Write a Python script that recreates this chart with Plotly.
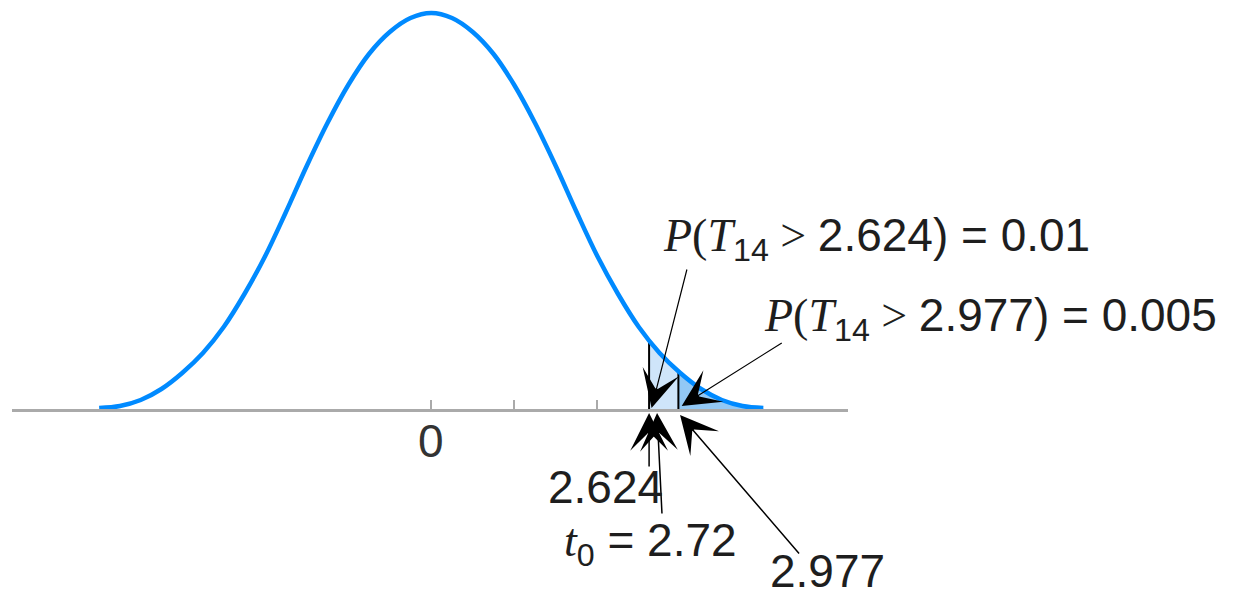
import numpy as np
import plotly.graph_objects as go

# t distribution with 14 degrees of freedom (curve heights sampled every 0.25)
df_t = 14
t_vals = [-4.0, -3.75, -3.5, -3.25, -3.0, -2.75, -2.5, -2.25, -2.0, -1.75, -1.5, -1.25,
          -1.0, -0.75, -0.5, -0.25, 0.0, 0.25, 0.5, 0.75, 1.0, 1.25, 1.5, 1.75, 2.0,
          2.25, 2.5, 2.75, 3.0, 3.25, 3.5, 3.75, 4.0]
density = [0.002, 0.004, 0.010, 0.021, 0.037, 0.057, 0.083, 0.116, 0.154, 0.198, 0.244, 0.287,
           0.325, 0.356, 0.378, 0.392, 0.397, 0.392, 0.378, 0.356, 0.325, 0.287, 0.244, 0.198, 0.154,
           0.116, 0.083, 0.057, 0.037, 0.021, 0.010, 0.004, 0.002]

# critical values, tail probabilities and observed statistic
crit_01, p_01 = 2.624, "0.01"
crit_005, p_005 = 2.977, "0.005"
t_obs = 2.72

tick_vals = [0, 1, 2]
tick_text = ["0", "", ""]

t_arr = np.array(t_vals)
d_arr = np.array(density)


def height(x):
    return float(np.interp(x, t_arr, d_arr))


def tail_region(lo, hi):
    inside = (t_arr > lo) & (t_arr < hi)
    xs = [lo] + list(t_arr[inside]) + [hi]
    ys = [height(lo)] + list(d_arr[inside]) + [height(hi)]
    return xs, ys


BLUE = "rgb(0,138,255)"
SANS = "Liberation Sans"
SERIF = "Liberation Serif"
TXT = "#1e1e1e"
FS = 46

fig = go.Figure()

x1, y1 = tail_region(crit_01, crit_005)
fig.add_trace(go.Scatter(x=x1, y=y1, mode="lines", line=dict(width=0, shape="spline"),
                         fill="tozeroy", fillcolor="#cfe5fa", hoverinfo="skip"))
x2, y2 = tail_region(crit_005, t_vals[-1])
fig.add_trace(go.Scatter(x=x2, y=y2, mode="lines", line=dict(width=0, shape="spline"),
                         fill="tozeroy", fillcolor="#92c8f5", hoverinfo="skip"))

# cut-off lines at the two critical values
for c in (crit_01, crit_005):
    fig.add_trace(go.Scatter(x=[c, c], y=[0, height(c)], mode="lines",
                             line=dict(color="black", width=2), hoverinfo="skip"))

fig.add_trace(go.Scatter(x=t_vals, y=density, mode="lines",
                         line=dict(color=BLUE, width=4.5, shape="spline", smoothing=1.0),
                         hoverinfo="skip"))


def prob_label(crit, p):
    return (f"<span style='font-family:{SERIF}'><i>P</i>(<i>T</i></span>"
            f"<sub>{df_t}</sub>"
            f"<span style='font-family:{SERIF}'> &gt; </span>{crit}) = {p}")


arrow = dict(showarrow=True, arrowhead=3, arrowsize=4.2, arrowwidth=1.5, arrowcolor="black",
             axref="x", ayref="y", xref="x", yref="y", text="")

annotations = [
    # arrows from the value labels up to the axis
    dict(arrow, x=crit_01, y=-0.003, ax=crit_01, ay=-0.058),
    dict(arrow, x=t_obs, y=-0.003, ax=t_obs + 0.06, ay=-0.105),
    dict(arrow, x=crit_005 + 0.02, y=-0.005, ax=4.446, ay=-0.145),
    # arrows from the probability statements down into the tail areas
    dict(arrow, x=crit_01 + 0.03, y=0.002, ax=3.084, ay=0.142, arrowwidth=1.2, arrowsize=5.2),
    dict(arrow, x=crit_005 + 0.04, y=0.004, ax=4.24, ay=0.068, arrowwidth=1.2, arrowsize=5.2),
    # text
    dict(x=2.77, y=0.172, text=prob_label(crit_01, p_01), showarrow=False,
         xanchor="left", yanchor="middle", font=dict(family=SANS, size=FS, color=TXT)),
    dict(x=3.99, y=0.092, text=prob_label(crit_005, p_005), showarrow=False,
         xanchor="left", yanchor="middle", font=dict(family=SANS, size=FS, color=TXT)),
    dict(x=2.096, y=-0.077, text=f"{crit_01}", showarrow=False,
         xanchor="center", yanchor="middle", font=dict(family=SANS, size=FS, color=TXT)),
    dict(x=1.578, y=-0.133,
         text=f"<span style='font-family:{SERIF}'><i>t</i></span><sub>0</sub> = {t_obs}",
         showarrow=False, xanchor="left", yanchor="middle",
         font=dict(family=SANS, size=FS, color=TXT)),
    dict(x=4.771, y=-0.161, text=f"{crit_005}", showarrow=False,
         xanchor="center", yanchor="middle", font=dict(family=SANS, size=FS, color=TXT)),
    # zero tick label
    dict(x=tick_vals[0], y=-0.031, text=tick_text[0], showarrow=False,
         xanchor="center", yanchor="middle", font=dict(family=SANS, size=FS, color="#333333")),
]

fig.update_layout(
    width=1239, height=600,
    margin=dict(l=0, r=0, t=0, b=0),
    paper_bgcolor="white", plot_bgcolor="white",
    showlegend=False,
    annotations=annotations,
    xaxis=dict(domain=[12 / 1239, 848 / 1239], range=[-5.05, 5.02],
               anchor="free", position=0.19 / 0.60,
               showline=True, linecolor="#aaaaaa", linewidth=2.5,
               showgrid=False, zeroline=False,
               tickmode="array", tickvals=tick_vals, showticklabels=False,
               ticks="inside", ticklen=9, tickwidth=1.5, tickcolor="#aaaaaa",
               fixedrange=True),
    yaxis=dict(domain=[0, 1], range=[-0.19, 0.41], visible=False, fixedrange=True),
)

fig.write_html("out.html")
